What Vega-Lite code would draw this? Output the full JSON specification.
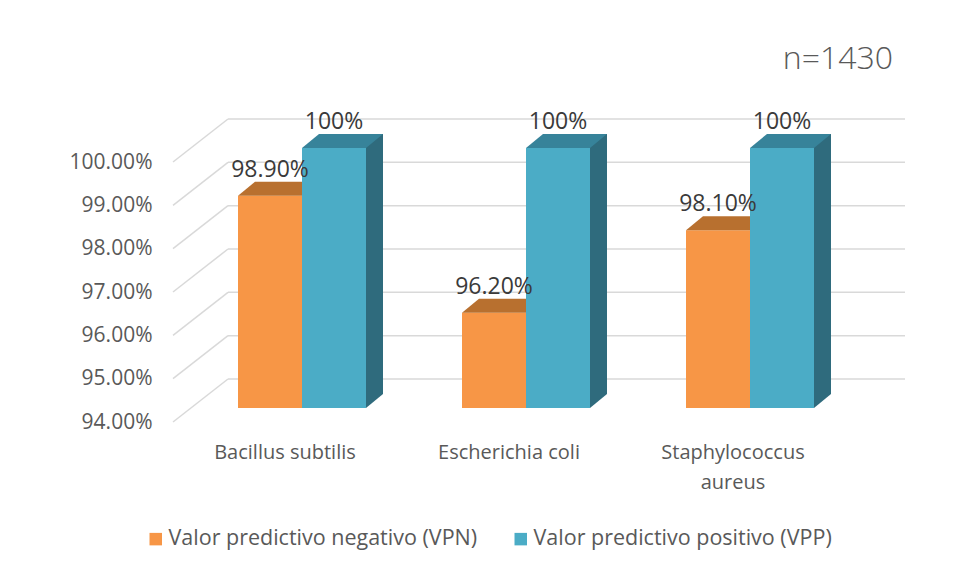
{
  "$schema": "https://vega.github.io/schema/vega-lite/v6.json",
  "width": 672,
  "height": 260,
  "autosize": {"type": "none"},
  "padding": {"left": 190, "top": 148, "right": 95, "bottom": 161},
  "background": "white",
  "config": {"view": {"stroke": null}, "font": "Open Sans"},
  "title": {"text": "n=1430", "anchor": "end", "frame": "group", "fontSize": 32, "fontWeight": 300, "color": "#595959", "font": "Open Sans", "dx": 31, "offset": 35},
  "datasets": {
    "bars": [
      {"cat": "Bacillus subtilis", "serie": "Valor predictivo negativo (VPN)", "value": 0.989},
      {"cat": "Bacillus subtilis", "serie": "Valor predictivo positivo (VPP)", "value": 1.0},
      {"cat": "Escherichia coli", "serie": "Valor predictivo negativo (VPN)", "value": 0.962},
      {"cat": "Escherichia coli", "serie": "Valor predictivo positivo (VPP)", "value": 1.0},
      {"cat": "Staphylococcus aureus", "serie": "Valor predictivo negativo (VPN)", "value": 0.981},
      {"cat": "Staphylococcus aureus", "serie": "Valor predictivo positivo (VPP)", "value": 1.0}
    ],
    "grid": [
      {"value": 0.94}, {"value": 0.95}, {"value": 0.96}, {"value": 0.97}, {"value": 0.98}, {"value": 0.99}, {"value": 1.0}
    ]
  },
  "layer": [
    {
      "data": {"name": "grid"},
      "layer": [
        {
          "mark": {"type": "rule", "color": "#D9D9D9", "strokeWidth": 1.5, "xOffset": 38, "x2Offset": 43, "yOffset": -29, "y2Offset": -29},
          "encoding": {
            "x": {"datum": 0, "type": "quantitative", "scale": {"domain": [0, 1]}, "axis": null},
            "x2": {"datum": 1},
            "y": {"field": "value", "type": "quantitative", "title": null,
              "scale": {"domain": [0.94, 1.0], "nice": false, "zero": false},
              "axis": {"values": [0.94, 0.95, 0.96, 0.97, 0.98, 0.99, 1.0], "format": ".2%", "domain": false, "ticks": false, "grid": false, "labelPadding": 38, "labelOffset": 14, "labelFont": "Open Sans", "labelFontSize": 21, "labelColor": "#595959", "title": null}},
            "y2": {"field": "value"}
          }
        },
        {
          "mark": {"type": "rule", "color": "#D9D9D9", "strokeWidth": 1.5, "xOffset": -17, "x2Offset": 38, "yOffset": 14, "y2Offset": -29},
          "encoding": {
            "x": {"datum": 0, "type": "quantitative"},
            "x2": {"datum": 0},
            "y": {"field": "value", "type": "quantitative", "title": null},
            "y2": {"field": "value"}
          }
        }
      ]
    },
    {
      "data": {"name": "bars"},
      "layer": [
        {
          "transform": [{"filter": {"field": "serie", "equal": "Valor predictivo negativo (VPN)"}}],
          "mark": {"type": "bar", "width": 64, "xOffset": -32},
          "encoding": {
            "x": {"field": "cat", "type": "nominal", "title": null,
              "scale": {"paddingInner": 0.4286, "paddingOuter": 0.2143},
              "axis": {"orient": "bottom", "domain": false, "ticks": false, "grid": false, "labelAngle": 0, "labelPadding": 34, "labelOffset": -17, "labelFont": "Open Sans", "labelFontSize": 20, "labelColor": "#595959", "labelLineHeight": 30, "labelLimit": 400, "labelExpr": "datum.label == 'Staphylococcus aureus' ? ['Staphylococcus', 'aureus'] : datum.label", "title": null}},
            "y": {"field": "value", "type": "quantitative", "title": null},
            "y2": {"datum": 0.94},
            "color": {"field": "serie", "type": "nominal",
              "scale": {"domain": ["Valor predictivo negativo (VPN)", "Valor predictivo positivo (VPP)"], "range": ["#F79646", "#4BACC6"]},
              "legend": {"orient": "none", "legendX": -45, "legendY": 380, "direction": "horizontal", "title": null, "symbolType": "square", "symbolSize": 156, "symbolStrokeWidth": 0, "symbolOpacity": 1, "labelFont": "Open Sans", "labelFontSize": 21.5, "labelColor": "#595959", "columnPadding": 32, "labelOffset": 2, "labelLimit": 500}}
          }
        },
        {
          "transform": [{"filter": {"field": "serie", "equal": "Valor predictivo negativo (VPN)"}}],
          "mark": {"type": "point", "shape": "M-1,0L1,0L1.53125,-0.4375L-0.46875,-0.4375Z", "size": 4096, "filled": true, "opacity": 1, "strokeWidth": 0, "color": "#B8702F", "xOffset": -32},
          "encoding": {
            "x": {"field": "cat", "type": "nominal", "title": null},
            "y": {"field": "value", "type": "quantitative", "title": null}
          }
        },
        {
          "transform": [{"filter": {"field": "serie", "equal": "Valor predictivo positivo (VPP)"}}],
          "mark": {"type": "bar", "width": 64, "xOffset": 49, "yOffset": -14, "y2Offset": -14, "color": "#2F6B7D"},
          "encoding": {
            "x": {"field": "cat", "type": "nominal", "title": null},
            "y": {"field": "value", "type": "quantitative", "title": null},
            "y2": {"datum": 0.94}
          }
        },
        {
          "transform": [{"filter": {"field": "serie", "equal": "Valor predictivo positivo (VPP)"}}],
          "mark": {"type": "point", "shape": "M-1,0L1,0L1.53125,-0.4375L-0.46875,-0.4375Z", "size": 4096, "filled": true, "opacity": 1, "strokeWidth": 0, "color": "#2F6B7D", "xOffset": 32},
          "encoding": {
            "x": {"field": "cat", "type": "nominal", "title": null},
            "y": {"datum": 0.94}
          }
        },
        {
          "transform": [{"filter": {"field": "serie", "equal": "Valor predictivo positivo (VPP)"}}],
          "mark": {"type": "bar", "width": 64, "xOffset": 32},
          "encoding": {
            "x": {"field": "cat", "type": "nominal", "title": null},
            "y": {"field": "value", "type": "quantitative", "title": null},
            "y2": {"datum": 0.94},
            "color": {"field": "serie", "type": "nominal"}
          }
        },
        {
          "transform": [{"filter": {"field": "serie", "equal": "Valor predictivo positivo (VPP)"}}],
          "mark": {"type": "point", "shape": "M-1,0L1,0L1.53125,-0.4375L-0.46875,-0.4375Z", "size": 4096, "filled": true, "opacity": 1, "strokeWidth": 0, "color": "#37839A", "xOffset": 32},
          "encoding": {
            "x": {"field": "cat", "type": "nominal", "title": null},
            "y": {"field": "value", "type": "quantitative", "title": null}
          }
        },
        {
          "transform": [{"filter": {"field": "serie", "equal": "Valor predictivo negativo (VPN)"}}],
          "mark": {"type": "text", "font": "Open Sans", "fontSize": 23, "color": "#3A3A3A", "baseline": "alphabetic", "align": "center", "dy": -19, "xOffset": -32},
          "encoding": {
            "x": {"field": "cat", "type": "nominal", "title": null},
            "y": {"field": "value", "type": "quantitative", "title": null},
            "text": {"field": "value", "type": "quantitative", "format": ".2%"}
          }
        },
        {
          "transform": [{"filter": {"field": "serie", "equal": "Valor predictivo positivo (VPP)"}}],
          "mark": {"type": "text", "font": "Open Sans", "fontSize": 23, "color": "#3A3A3A", "baseline": "alphabetic", "align": "center", "dy": -19, "xOffset": 32},
          "encoding": {
            "x": {"field": "cat", "type": "nominal", "title": null},
            "y": {"field": "value", "type": "quantitative", "title": null},
            "text": {"field": "value", "type": "quantitative", "format": ".0%"}
          }
        }
      ]
    }
  ],
  "resolve": {"scale": {"x": "independent"}, "axis": {"x": "independent"}}
}
